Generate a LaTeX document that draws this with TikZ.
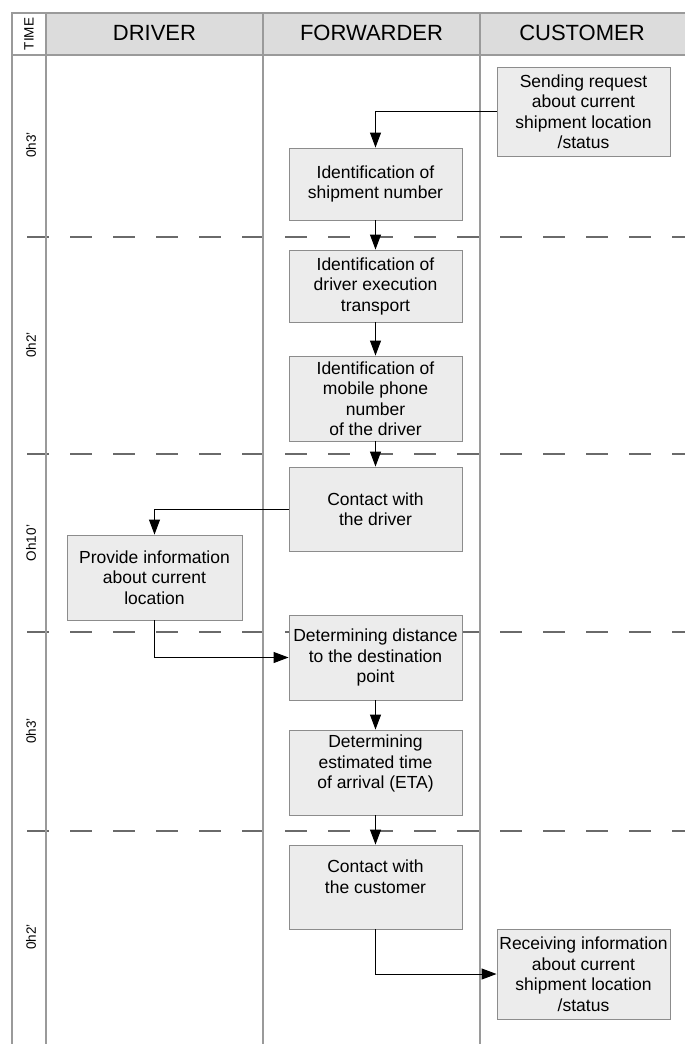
\documentclass[tikz,border=0pt]{standalone}
\usepackage{fontspec}
\setmainfont{Liberation Sans}
\usetikzlibrary{arrows.meta}
\definecolor{hdrfill}{HTML}{DCDCDC}
\definecolor{boxfill}{HTML}{ECECEC}
\definecolor{lanegray}{HTML}{9A9A9A}
\definecolor{boxedge}{HTML}{8C8C8C}
\definecolor{dashgray}{HTML}{6A6A6A}
\tikzset{
  stepbox/.style={draw=boxedge, line width=0.9pt, fill=boxfill, inner sep=0pt,
    align=center, font=\fontsize{17.5}{20.5}\selectfont},
  lane/.style={draw=lanegray, line width=1.1pt},
  sepline/.style={draw=dashgray, line width=1.5pt, dash pattern=on 22pt off 21pt},
  arr/.style={draw=black, line width=1pt, -{Triangle[length=15pt,width=11pt]}},
  hdr/.style={font=\fontsize{22}{26}\selectfont},
  timelbl/.style={rotate=90, font=\fontsize{13.5}{16}\selectfont},
}
\begin{document}
\begin{tikzpicture}[x=1pt,y=-1pt]
\useasboundingbox (0,0) rectangle (685,1044);
% header
\fill[hdrfill] (46,13) rectangle (685,55);
\fill[white] (12,13) rectangle (46,55);
% separators
\foreach \yy in {237,454,632,831} \draw[sepline] (27,\yy) -- (685,\yy);
% lanes
\draw[lane] (685,13) -- (12,13) -- (12,1044);
\draw[lane] (12,55) -- (685,55);
\draw[lane] (46,13) -- (46,1044);
\draw[lane] (263,13) -- (263,1044);
\draw[lane] (480,13) -- (480,1044);
% header labels
\node[timelbl] (htime) at (29,34) {TIME};
\node[hdr] (hdriver) at (154.5,33) {DRIVER};
\node[hdr] (hfwd) at (371.5,33) {FORWARDER};
\node[hdr] (hcust) at (582,33) {CUSTOMER};
% time labels
\node[timelbl] (t1) at (31,145) {0h3'};
\node[timelbl] (t2) at (31,345) {0h2'};
\node[timelbl] (t3) at (31,543) {Oh10'};
\node[timelbl] (t4) at (31,731) {0h3'};
\node[timelbl] (t5) at (31,937) {0h2'};
% boxes
\node[stepbox, minimum width=173pt, minimum height=89pt] (send) at (583.5,111.5)
  {Sending request\\about current\\shipment location\\/status};
\node[stepbox, minimum width=173pt, minimum height=72pt] (ship) at (375.5,184)
  {Identification of\\shipment number};
\node[stepbox, minimum width=173pt, minimum height=72pt] (drv) at (375.5,286)
  {Identification of\\driver execution\\transport};
\node[stepbox, minimum width=173pt, minimum height=85pt] (phone) at (375.5,398.5)
  {Identification of\\mobile phone\\number\\of the driver};
\node[stepbox, minimum width=173pt, minimum height=84pt] (cdrv) at (375.5,509)
  {Contact with\\the driver};
\node[stepbox, minimum width=175pt, minimum height=85pt] (prov) at (154.5,577.5)
  {Provide information\\about current\\location};
\node[stepbox, minimum width=173pt, minimum height=85pt] (dist) at (375.5,657.5)
  {Determining distance\\to the destination\\point};
\node[stepbox, minimum width=173pt, minimum height=85pt] (eta) at (375.5,772.5)
  {Determining\\estimated time\\of arrival (ETA)\\[1pt]~};
\node[stepbox, minimum width=173pt, minimum height=84pt] (ccust) at (375.5,887)
  {Contact with\\the customer\\~};
\node[stepbox, minimum width=173pt, minimum height=90pt] (recv) at (583.5,974)
  {Receiving information\\about current\\shipment location\\/status};
% connectors
\draw[arr] (send.west) -| (ship.north);
\draw[arr] (ship.south) -- (drv.north);
\draw[arr] (drv.south) -- (phone.north);
\draw[arr] (phone.south) -- (cdrv.north);
\draw[arr] (cdrv.west) -| (prov.north);
\draw[arr] (prov.south) |- (dist.west);
\draw[arr] (dist.south) -- (eta.north);
\draw[arr] (eta.south) -- (ccust.north);
\draw[arr] (ccust.south) |- (recv.west);
\end{tikzpicture}
\end{document}
